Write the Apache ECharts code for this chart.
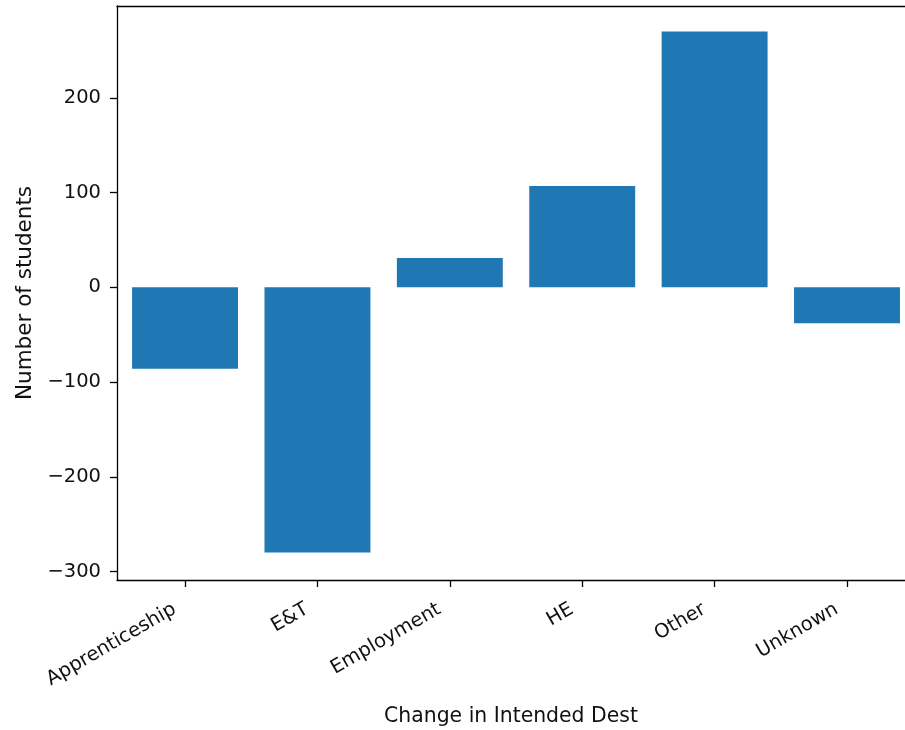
<!DOCTYPE html>
<html>
<head>
<meta charset="utf-8">
<script src="https://cdn.jsdelivr.net/npm/echarts@6/dist/echarts.min.js"></script>
<style>
  html, body { margin: 0; padding: 0; background: #fff; overflow: hidden; }
  #chart { width: 905px; height: 730px; }
</style>
</head>
<body>
<div id="chart"></div>
<script>
// Net change in intended destination, by destination category
const categories = ['Apprenticeship', 'E&T', 'Employment', 'HE', 'Other', 'Unknown'];
const changeValues = [-86, -280, 31, 107, 270, -38];
const yTicks = [-300, -200, -100, 0, 100, 200];
const yRange = [-309, 297];
// category slots are placed at 0..n-1 on a numeric x scale
const xRange = [-0.514, 5.438];
const xSlots = categories.map((_, i) => i);

const FONT = 'DejaVu Sans';
const INK = '#000';
const TEXT = '#111';
const SPINE = { color: INK, width: 1.3 };

const chart = echarts.init(document.getElementById('chart'), null, { renderer: 'canvas' });

const fmtNum = v => (v < 0 ? '\u2212' + Math.abs(v) : String(v));

const GRID_LEFT = 117;
const GRID_WIDTH = 905 - GRID_LEFT;
// bars take 80% of one category slot
const slotPx = GRID_WIDTH / (xRange[1] - xRange[0]);

chart.setOption({
  animation: false,
  backgroundColor: '#fff',
  grid: {
    left: GRID_LEFT, top: 6, right: 0, bottom: 150,
    outerBoundsMode: 'none',
    containLabel: false,
    show: false
  },
  xAxis: [{
    type: 'value',
    min: xRange[0],
    max: xRange[1],
    name: 'Change in Intended Dest',
    nameLocation: 'middle',
    nameGap: 127,
    nameTextStyle: { fontFamily: FONT, fontSize: 20.4, color: TEXT },
    axisLine: { show: true, onZero: false, lineStyle: SPINE },
    axisTick: { show: true, length: 7, customValues: xSlots, lineStyle: SPINE },
    axisLabel: {
      customValues: xSlots,
      formatter: v => categories[Math.round(v)] || '',
      rotate: 30, margin: 22,
      padding: [0, 12, 0, 0],
      fontFamily: FONT, fontSize: 19.5, color: TEXT
    },
    splitLine: { show: false }
  }, {
    // top spine of the plotting frame
    type: 'value',
    min: xRange[0],
    max: xRange[1],
    position: 'top',
    axisLine: { show: true, onZero: false, lineStyle: SPINE },
    axisTick: { show: false },
    axisLabel: { show: false },
    splitLine: { show: false }
  }],
  yAxis: {
    type: 'value',
    min: yRange[0],
    max: yRange[1],
    name: 'Number of students',
    nameLocation: 'middle',
    nameGap: 80,
    nameTextStyle: { fontFamily: FONT, fontSize: 21.5, color: TEXT },
    axisLine: { show: true, onZero: false, lineStyle: SPINE },
    axisTick: { show: true, length: 7, customValues: yTicks, lineStyle: SPINE },
    axisLabel: {
      customValues: yTicks,
      margin: 16,
      formatter: v => fmtNum(v),
      fontFamily: FONT, fontSize: 19.5, color: TEXT
    },
    splitLine: { show: false }
  },
  series: [{
    type: 'bar',
    xAxisIndex: 0,
    data: changeValues.map((v, i) => [xSlots[i], v]),
    barWidth: slotPx * 0.8,
    itemStyle: { color: '#1f77b4' }
  }]
});
</script>
</body>
</html>
